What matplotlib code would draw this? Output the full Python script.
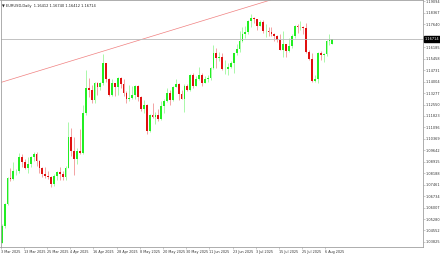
import matplotlib
matplotlib.use("Agg")
import matplotlib.pyplot as plt
import numpy as np

# ---- data (EURUSD daily, 3 Mar 2025 - 8 Aug 2025) ----
opens = [1.0375,1.0484,1.0625,1.0790,1.0783, 1.0833,1.0834,1.0919,1.0888,1.0851,
         1.0880,1.0922,1.0942,1.0897,1.0852, 1.0815,1.0802,1.0792,1.0753,1.0799,
         1.0829,
         1.0816,1.0793,1.0850,1.1049, 1.0960,1.0910,1.0957,1.0950,1.1200,
         1.1360,1.1347,1.1285,1.1395,1.1365, 1.1393,1.1516,1.1420,1.1315,1.1390,
         1.1365,1.1421,1.1385,
         1.1327,1.1290, 1.1299,1.1314,1.1370,1.1300,1.1227, 1.1250,1.1088,1.1187,1.1175,1.1187,
         1.1163,1.1243,1.1280,1.1330,1.1285, 1.1365,1.1385,1.1325,1.1290,1.1370,
         1.1350,1.1440,1.1370,1.1420,1.1445, 1.1395,1.1420,1.1425,1.1485,1.1585,
         1.1550,1.1560,1.1478,1.1480,1.1495, 1.1520,1.1580,1.1610,1.1660,1.1700,
         1.1718,
         1.1785,1.1805,1.1800,1.1755, 1.1780,1.1720,1.1725,1.1715,1.1700,
         1.1690,1.1665,1.1600,1.1640,1.1595, 1.1625,1.1690,1.1755,1.1745,1.1750,
         1.1740,1.1590,1.1545,1.1405,
         1.1415, 1.1585,1.1570,1.1575,1.1660,1.16412]
highs = [1.0497,1.0627,1.0797,1.0854,1.0888, 1.0847,1.0947,1.0939,1.0907,1.0921,
         1.0928,1.0955,1.0953,1.0904,1.0861, 1.0860,1.0830,1.0800,1.0812,1.0834,
         1.0858,
         1.0831,1.0865,1.1144,1.1107, 1.1047,1.0980,1.1100,1.1250,1.1474,
         1.1425,1.1380,1.1400,1.1400,1.1400, 1.1573,1.1520,1.1425,1.1420,1.1395,
         1.1430,1.1430,1.1420,
         1.1340,1.1380, 1.1370,1.1380,1.1380,1.1310,1.1285, 1.1260,1.1195,1.1266,1.1210,1.1225,
         1.1280,1.1290,1.1363,1.1345,1.1375, 1.1420,1.1395,1.1345,1.1385,1.1385,
         1.1450,1.1455,1.1435,1.1495,1.1455, 1.1435,1.1445,1.1495,1.1630,1.1613,
         1.1590,1.1585,1.1540,1.1520,1.1530, 1.1580,1.1640,1.1720,1.1745,1.1755,
         1.1790,
         1.1830,1.1810,1.1800,1.1790, 1.1790,1.1765,1.1745,1.1750,1.1710,
         1.1695,1.1705,1.1720,1.1640,1.1675, 1.1700,1.1760,1.1765,1.1785,1.1755,
         1.1770,1.1600,1.1580,1.1445,
         1.1590, 1.1595,1.1585,1.1665,1.1700,1.16740]
lows  = [1.0375,1.0470,1.0620,1.0768,1.0777, 1.0808,1.0820,1.0857,1.0846,1.0820,
         1.0860,1.0895,1.0866,1.0822,1.0797, 1.0790,1.0780,1.0733,1.0735,1.0777,
         1.0777,
         1.0778,1.0777,1.0850,1.0930, 1.0810,1.0880,1.0940,1.0940,1.1190,
         1.1300,1.1265,1.1265,1.1315,1.1350, 1.1380,1.1400,1.1310,1.1310,1.1310,
         1.1315,1.1360,1.1310,
         1.1265,1.1275, 1.1290,1.1290,1.1280,1.1215,1.1200, 1.1065,1.1080,1.1170,1.1130,1.1150,
         1.1160,1.1200,1.1270,1.1255,1.1280, 1.1365,1.1285,1.1290,1.1210,1.1340,
         1.1340,1.1360,1.1370,1.1410,1.1375, 1.1390,1.1400,1.1410,1.1480,1.1490,
         1.1530,1.1475,1.1450,1.1445,1.1490, 1.1455,1.1570,1.1590,1.1650,1.1680,
         1.1705,
         1.1745,1.1770,1.1730,1.1755, 1.1710,1.1685,1.1690,1.1690,1.1660,
         1.1650,1.1600,1.1555,1.1555,1.1590, 1.1615,1.1680,1.1710,1.1730,1.1700,
         1.1585,1.1540,1.1400,1.1400,
         1.1390, 1.1535,1.1525,1.1565,1.1630,1.16412]
closes = [1.0484,1.0625,1.0790,1.0783,1.0833, 1.0834,1.0919,1.0888,1.0851,1.0880,
          1.0922,1.0942,1.0897,1.0852,1.0815, 1.0802,1.0792,1.0753,1.0799,1.0829,
          1.0816,
          1.0793,1.0850,1.1049,1.0960, 1.0910,1.0957,1.0950,1.1200,1.1360,
          1.1347,1.1285,1.1395,1.1365,1.1393, 1.1516,1.1420,1.1315,1.1390,1.1365,
          1.1421,1.1385,1.1327,
          1.1290,1.1299, 1.1314,1.1370,1.1300,1.1227,1.1250, 1.1088,1.1187,1.1175,1.1187,1.1163,
          1.1243,1.1280,1.1330,1.1285,1.1365, 1.1385,1.1325,1.1290,1.1370,1.1350,
          1.1440,1.1370,1.1420,1.1445,1.1395, 1.1420,1.1425,1.1485,1.1585,1.1550,
          1.1560,1.1478,1.1480,1.1495,1.1520, 1.1580,1.1610,1.1660,1.1700,1.1718,
          1.1785,
          1.1805,1.1800,1.1755,1.1780, 1.1720,1.1725,1.1715,1.1700,1.1690,
          1.1665,1.1600,1.1640,1.1595,1.1625, 1.1690,1.1755,1.1745,1.1750,1.1740,
          1.1590,1.1545,1.1405,1.1415,
          1.1585, 1.1570,1.1575,1.1660,1.1665,1.16714]

x_labels = ["3 Mar 2025", "13 Mar 2025", "25 Mar 2025", "4 Apr 2025", "16 Apr 2025",
            "28 Apr 2025", "8 May 2025", "20 May 2025", "30 May 2025", "11 Jun 2025",
            "23 Jun 2025", "3 Jul 2025", "15 Jul 2025", "25 Jul 2025", "6 Aug 2025"]
x_label_idx = [0, 8, 16, 24, 32, 40, 48, 56, 64, 72, 80, 88, 96, 104, 112]

y_ticks = [1.19094, 1.18367, 1.17640, 1.16185, 1.15458, 1.14731, 1.14004, 1.13277,
           1.12550, 1.11823, 1.11096, 1.10369, 1.09642, 1.08915, 1.08188, 1.07461,
           1.06734, 1.06007, 1.05280, 1.04552, 1.03825]

trend_x = [0, 92]
trend_y = [1.1397, 1.1915]

current_price = 1.16714
title = "EURUSD,Daily  1.16412 1.16740 1.16412 1.16714"

# ---- drawing ----
W, H = 440, 254
fig = plt.figure(figsize=(W / 100, H / 100), dpi=100)
fig.patch.set_facecolor("white")
ax = fig.add_axes([0.5 / W, 7 / H, 422.5 / W, 247 / H])

n = len(opens)
xs = np.arange(n)
up_col = "#22ee22"
dn_col = "#e01010"
for i in range(n):
    o, h, l, c = opens[i], highs[i], lows[i], closes[i]
    col = up_col if c >= o else dn_col
    ax.vlines(xs[i], l, h, color=col, linewidth=0.45, alpha=0.6)
    bottom = min(o, c)
    height = max(abs(c - o), 0.0003)
    ax.bar(xs[i], height, bottom=bottom, width=0.62, color=col, linewidth=0)

ax.set_xlim(-0.42, -0.42 + 422.5 / 2.9)
ax.set_ylim(1.03504, 1.19189)

# trendline
ax.axline((trend_x[0], trend_y[0]), (trend_x[1], trend_y[1]), color="#f08080", linewidth=0.5)

# current price line
ax.axhline(current_price, color="#b8b8b8", linewidth=0.6)

for s in ax.spines.values():
    s.set_color("#a0a0a0")
    s.set_linewidth(0.6)

ax.yaxis.tick_right()
ax.set_yticks(y_ticks)
ax.set_yticklabels([f"{v:.5f}" for v in y_ticks])
ax.tick_params(axis="y", length=1.2, width=0.4, color="#a0a0a0", pad=1.0,
               labelsize=2.5, labelcolor="#333333")
ax.set_xticks([i - 0.4 for i in x_label_idx])
ax.set_xticklabels(x_labels, ha="left")
ax.tick_params(axis="x", length=1.2, width=0.4, color="#a0a0a0", pad=0.8,
               labelsize=2.4, labelcolor="#333333")

# current price label
ax.text(1.004, current_price, f"{current_price:.5f}", transform=ax.get_yaxis_transform(),
        fontsize=2.5, color="white", va="center", ha="left",
        bbox=dict(boxstyle="square,pad=0.3", fc="black", ec="black"))

ax.text(0.003, 0.985, "\u25BC " + title, transform=ax.transAxes, fontsize=2.6,
        color="#222222", va="top", ha="left")

fig.savefig("out.png", dpi=100, facecolor="white")
